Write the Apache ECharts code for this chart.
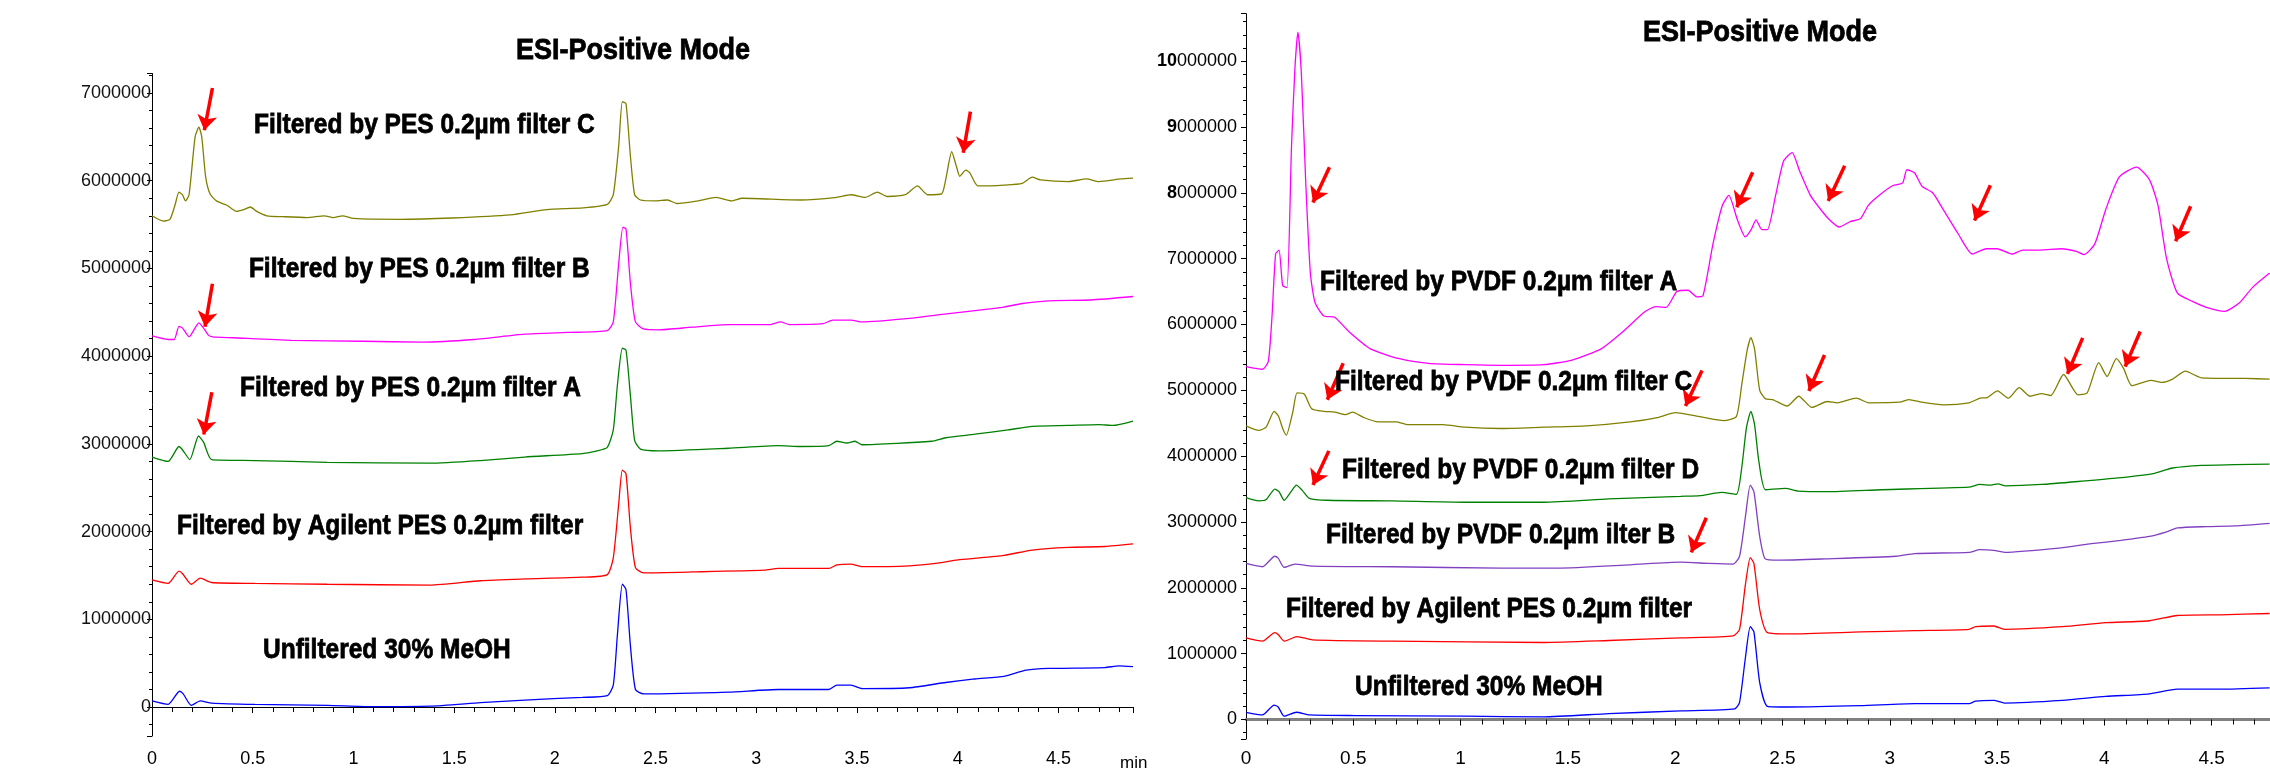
<!DOCTYPE html>
<html>
<head>
<meta charset="utf-8">
<title>ESI-Positive Mode</title>
<script src="https://cdn.jsdelivr.net/npm/echarts@6/dist/echarts.min.js"></script>
<style>
  html, body { margin: 0; padding: 0; background: #fff; }
  #chart { width: 2270px; height: 768px; }
</style>
</head>
<body>
<div id="chart"></div>
<script>
// ---- left panel: PES filters, [time (min), intensity] ----
const pesC = [
  [0, 5.60e6], [0.056, 5.54e6], [0.089, 5.56e6], [0.114, 5.72e6], [0.134, 5.87e6], [0.151, 5.84e6],
  [0.166, 5.77e6], [0.184, 5.84e6], [0.214, 6.50e6], [0.233, 6.61e6], [0.247, 6.50e6], [0.266, 6.05e6],
  [0.288, 5.85e6], [0.32, 5.77e6], [0.372, 5.72e6], [0.42, 5.65e6], [0.455, 5.67e6], [0.488, 5.70e6],
  [0.52, 5.65e6], [0.57, 5.60e6], [0.65, 5.59e6], [0.77, 5.58e6], [0.855, 5.60e6], [0.90, 5.58e6],
  [0.946, 5.60e6], [1.0, 5.57e6], [1.23, 5.56e6], [1.49, 5.575e6], [1.78, 5.61e6], [1.96, 5.67e6],
  [2.14, 5.69e6], [2.26, 5.73e6], [2.29, 5.84e6], [2.317, 6.40e6], [2.335, 6.90e6], [2.353, 6.88e6],
  [2.375, 6.28e6], [2.396, 5.84e6], [2.425, 5.78e6], [2.50, 5.77e6], [2.56, 5.78e6], [2.605, 5.74e6],
  [2.71, 5.77e6], [2.80, 5.81e6], [2.876, 5.77e6], [2.93, 5.80e6], [3.22, 5.78e6], [3.40, 5.81e6],
  [3.47, 5.84e6], [3.54, 5.81e6], [3.60, 5.87e6], [3.65, 5.82e6], [3.74, 5.84e6], [3.80, 5.94e6],
  [3.85, 5.84e6], [3.92, 5.85e6], [3.94, 6.01e6], [3.97, 6.33e6], [3.995, 6.15e6], [4.01, 6.05e6],
  [4.04, 6.12e6], [4.06, 6.09e6], [4.10, 5.94e6], [4.23, 5.95e6], [4.32, 5.97e6], [4.37, 6.04e6],
  [4.41, 6.01e6], [4.55, 5.99e6], [4.64, 6.02e6], [4.70, 5.99e6], [4.81, 6.02e6], [4.87, 6.03e6]
];
const pesB = [
  [0, 4.23e6], [0.08, 4.19e6], [0.11, 4.19e6], [0.134, 4.34e6], [0.152, 4.32e6], [0.184, 4.22e6],
  [0.233, 4.38e6], [0.256, 4.32e6], [0.28, 4.24e6], [0.30, 4.22e6], [0.40, 4.21e6], [0.69, 4.18e6],
  [1.05, 4.17e6], [1.34, 4.16e6], [1.60, 4.19e6], [1.85, 4.25e6], [2.06, 4.27e6], [2.26, 4.29e6],
  [2.29, 4.39e6], [2.317, 5.06e6], [2.338, 5.47e6], [2.353, 5.45e6], [2.375, 4.83e6], [2.40, 4.39e6],
  [2.44, 4.31e6], [2.515, 4.30e6], [2.68, 4.33e6], [2.86, 4.36e6], [3.07, 4.36e6], [3.12, 4.39e6],
  [3.165, 4.36e6], [3.33, 4.37e6], [3.38, 4.41e6], [3.47, 4.41e6], [3.525, 4.39e6], [3.76, 4.43e6],
  [3.90, 4.47e6], [4.01, 4.50e6], [4.16, 4.54e6], [4.23, 4.56e6], [4.32, 4.60e6], [4.45, 4.63e6],
  [4.66, 4.64e6], [4.87, 4.68e6]
];
const pesA = [
  [0, 2.85e6], [0.08, 2.80e6], [0.134, 2.97e6], [0.152, 2.93e6], [0.188, 2.82e6], [0.231, 3.09e6],
  [0.256, 3.02e6], [0.296, 2.82e6], [0.51, 2.81e6], [0.87, 2.79e6], [1.38, 2.78e6], [1.63, 2.81e6],
  [1.85, 2.85e6], [2.136, 2.89e6], [2.21, 2.92e6], [2.26, 2.96e6], [2.29, 3.16e6], [2.31, 3.66e6],
  [2.335, 4.09e6], [2.353, 4.07e6], [2.375, 3.55e6], [2.396, 3.04e6], [2.425, 2.94e6], [2.515, 2.92e6],
  [2.86, 2.95e6], [3.11, 2.98e6], [3.22, 2.97e6], [3.36, 2.98e6], [3.40, 3.03e6], [3.45, 3.01e6],
  [3.49, 3.03e6], [3.525, 2.99e6], [3.87, 3.03e6], [3.94, 3.07e6], [4.085, 3.11e6], [4.25, 3.16e6],
  [4.37, 3.20e6], [4.55, 3.21e6], [4.70, 3.22e6], [4.77, 3.21e6], [4.87, 3.26e6]
];
const agilentL = [
  [0, 1.45e6], [0.08, 1.41e6], [0.134, 1.55e6], [0.152, 1.52e6], [0.195, 1.40e6], [0.24, 1.47e6],
  [0.296, 1.42e6], [0.51, 1.41e6], [0.87, 1.40e6], [1.38, 1.39e6], [1.63, 1.44e6], [1.85, 1.46e6],
  [2.136, 1.48e6], [2.26, 1.51e6], [2.29, 1.70e6], [2.317, 2.32e6], [2.335, 2.70e6], [2.353, 2.66e6],
  [2.375, 2.04e6], [2.40, 1.59e6], [2.44, 1.53e6], [2.68, 1.54e6], [3.04, 1.56e6], [3.11, 1.58e6],
  [3.36, 1.58e6], [3.40, 1.62e6], [3.47, 1.63e6], [3.525, 1.60e6], [3.76, 1.61e6], [3.90, 1.64e6],
  [4.01, 1.68e6], [4.23, 1.73e6], [4.37, 1.79e6], [4.55, 1.82e6], [4.73, 1.83e6], [4.87, 1.86e6]
];
const unfilteredL = [
  [0, 0.07e6], [0.08, 0.03e6], [0.137, 0.18e6], [0.155, 0.15e6], [0.195, 0.02e6], [0.24, 0.07e6],
  [0.296, 0.045e6], [0.51, 0.03e6], [0.87, 0.02e6], [1.09, 0.005e6], [1.38, 0.01e6], [1.63, 0.05e6],
  [1.85, 0.08e6], [2.136, 0.11e6], [2.26, 0.13e6], [2.29, 0.25e6], [2.31, 0.81e6], [2.335, 1.40e6],
  [2.353, 1.34e6], [2.375, 0.70e6], [2.40, 0.20e6], [2.44, 0.15e6], [2.86, 0.17e6], [3.11, 0.20e6],
  [3.36, 0.20e6], [3.40, 0.25e6], [3.47, 0.25e6], [3.525, 0.21e6], [3.76, 0.22e6], [3.94, 0.28e6],
  [4.085, 0.32e6], [4.23, 0.35e6], [4.34, 0.42e6], [4.45, 0.44e6], [4.73, 0.45e6], [4.80, 0.47e6],
  [4.87, 0.46e6]
];

// ---- right panel: PVDF filters ----
const pvdfA = [
  [0, 5.36e6], [0.077, 5.32e6], [0.104, 5.44e6], [0.121, 6.11e6], [0.138, 7.07e6], [0.154, 7.13e6],
  [0.171, 6.59e6], [0.191, 6.56e6], [0.212, 8.70e6], [0.228, 9.89e6], [0.242, 10.44e6], [0.258, 9.81e6],
  [0.279, 8.11e6], [0.30, 6.78e6], [0.322, 6.33e6], [0.363, 6.13e6], [0.413, 6.11e6], [0.48, 5.89e6],
  [0.58, 5.63e6], [0.715, 5.48e6], [0.85, 5.41e6], [1.02, 5.39e6], [1.185, 5.38e6], [1.387, 5.39e6],
  [1.52, 5.46e6], [1.655, 5.63e6], [1.756, 5.89e6], [1.857, 6.19e6], [1.91, 6.27e6], [1.958, 6.26e6],
  [2.008, 6.50e6], [2.06, 6.52e6], [2.10, 6.42e6], [2.13, 6.44e6], [2.176, 7.22e6], [2.22, 7.81e6],
  [2.25, 7.96e6], [2.29, 7.59e6], [2.327, 7.33e6], [2.354, 7.44e6], [2.377, 7.59e6], [2.404, 7.44e6],
  [2.43, 7.44e6], [2.468, 7.96e6], [2.505, 8.48e6], [2.545, 8.61e6], [2.58, 8.33e6], [2.63, 7.96e6],
  [2.67, 7.78e6], [2.713, 7.61e6], [2.764, 7.48e6], [2.814, 7.56e6], [2.864, 7.61e6], [2.90, 7.81e6],
  [2.95, 7.96e6], [3.015, 8.11e6], [3.06, 8.15e6], [3.08, 8.35e6], [3.116, 8.30e6], [3.15, 8.10e6],
  [3.20, 8.00e6], [3.25, 7.74e6], [3.32, 7.37e6], [3.385, 7.07e6], [3.45, 7.15e6], [3.50, 7.15e6],
  [3.57, 7.07e6], [3.62, 7.13e6], [3.70, 7.13e6], [3.80, 7.15e6], [3.87, 7.11e6], [3.905, 7.06e6],
  [3.955, 7.22e6], [4.006, 7.74e6], [4.07, 8.24e6], [4.15, 8.39e6], [4.21, 8.20e6], [4.25, 7.81e6],
  [4.29, 7.00e6], [4.34, 6.48e6], [4.41, 6.35e6], [4.476, 6.26e6], [4.56, 6.20e6], [4.63, 6.33e6],
  [4.69, 6.56e6], [4.77, 6.78e6]
];
const pvdfC = [
  [0, 4.46e6], [0.06, 4.39e6], [0.094, 4.44e6], [0.131, 4.68e6], [0.151, 4.61e6], [0.171, 4.42e6],
  [0.188, 4.32e6], [0.218, 4.67e6], [0.238, 4.96e6], [0.272, 4.94e6], [0.306, 4.72e6], [0.363, 4.68e6],
  [0.413, 4.67e6], [0.463, 4.63e6], [0.497, 4.67e6], [0.547, 4.59e6], [0.615, 4.52e6], [0.70, 4.52e6],
  [0.75, 4.48e6], [0.917, 4.48e6], [1.02, 4.44e6], [1.185, 4.42e6], [1.387, 4.44e6], [1.588, 4.46e6],
  [1.79, 4.52e6], [1.924, 4.59e6], [2.0, 4.66e6], [2.116, 4.60e6], [2.226, 4.54e6], [2.285, 4.60e6],
  [2.31, 5.08e6], [2.335, 5.60e6], [2.353, 5.80e6], [2.37, 5.63e6], [2.394, 5.00e6], [2.421, 4.87e6],
  [2.454, 4.86e6], [2.522, 4.76e6], [2.576, 4.91e6], [2.637, 4.74e6], [2.709, 4.83e6], [2.756, 4.81e6],
  [2.844, 4.88e6], [2.903, 4.81e6], [3.047, 4.82e6], [3.09, 4.86e6], [3.149, 4.82e6], [3.25, 4.78e6],
  [3.369, 4.81e6], [3.42, 4.88e6], [3.454, 4.89e6], [3.502, 4.99e6], [3.553, 4.88e6], [3.603, 5.04e6],
  [3.654, 4.91e6], [3.708, 4.95e6], [3.75, 4.92e6], [3.81, 5.24e6], [3.878, 4.93e6], [3.92, 4.96e6],
  [3.974, 5.42e6], [4.013, 5.21e6], [4.056, 5.48e6], [4.09, 5.33e6], [4.128, 5.07e6], [4.217, 5.15e6],
  [4.268, 5.12e6], [4.318, 5.17e6], [4.377, 5.29e6], [4.453, 5.19e6], [4.657, 5.18e6], [4.77, 5.17e6]
];
const pvdfD = [
  [0, 3.37e6], [0.06, 3.32e6], [0.094, 3.34e6], [0.134, 3.50e6], [0.154, 3.46e6], [0.178, 3.33e6],
  [0.21, 3.46e6], [0.235, 3.56e6], [0.262, 3.48e6], [0.295, 3.36e6], [0.38, 3.33e6], [0.68, 3.32e6],
  [1.02, 3.30e6], [1.387, 3.30e6], [1.69, 3.35e6], [2.025, 3.39e6], [2.116, 3.40e6], [2.217, 3.45e6],
  [2.285, 3.42e6], [2.31, 3.82e6], [2.332, 4.43e6], [2.353, 4.68e6], [2.37, 4.48e6], [2.39, 3.92e6],
  [2.421, 3.49e6], [2.514, 3.51e6], [2.573, 3.47e6], [2.709, 3.46e6], [2.963, 3.49e6], [3.369, 3.53e6],
  [3.42, 3.57e6], [3.472, 3.56e6], [3.505, 3.58e6], [3.539, 3.55e6], [3.708, 3.57e6], [3.895, 3.62e6],
  [4.064, 3.67e6], [4.234, 3.74e6], [4.318, 3.82e6], [4.454, 3.86e6], [4.606, 3.87e6], [4.77, 3.88e6]
];
const pvdfB = [
  [0, 2.37e6], [0.077, 2.32e6], [0.134, 2.48e6], [0.15, 2.45e6], [0.178, 2.31e6], [0.228, 2.36e6],
  [0.31, 2.33e6], [0.68, 2.32e6], [1.185, 2.30e6], [1.45, 2.30e6], [1.79, 2.35e6], [2.025, 2.39e6],
  [2.16, 2.37e6], [2.27, 2.36e6], [2.30, 2.48e6], [2.327, 3.07e6], [2.35, 3.56e6], [2.367, 3.46e6],
  [2.394, 2.78e6], [2.42, 2.44e6], [2.48, 2.42e6], [2.70, 2.44e6], [3.03, 2.48e6], [3.116, 2.52e6],
  [3.37, 2.54e6], [3.42, 2.58e6], [3.485, 2.57e6], [3.535, 2.54e6], [3.805, 2.61e6], [3.94, 2.67e6],
  [4.077, 2.72e6], [4.21, 2.78e6], [4.29, 2.85e6], [4.34, 2.91e6], [4.476, 2.93e6], [4.61, 2.94e6],
  [4.77, 2.98e6]
];
const agilentR = [
  [0, 1.24e6], [0.077, 1.19e6], [0.134, 1.32e6], [0.15, 1.29e6], [0.178, 1.19e6], [0.238, 1.26e6],
  [0.31, 1.21e6], [0.68, 1.19e6], [1.387, 1.17e6], [1.69, 1.20e6], [2.025, 1.24e6], [2.27, 1.27e6],
  [2.30, 1.37e6], [2.327, 2.04e6], [2.35, 2.46e6], [2.367, 2.37e6], [2.394, 1.67e6], [2.43, 1.32e6],
  [2.53, 1.30e6], [2.864, 1.33e6], [3.116, 1.35e6], [3.37, 1.37e6], [3.40, 1.41e6], [3.485, 1.42e6],
  [3.535, 1.37e6], [3.805, 1.41e6], [4.006, 1.47e6], [4.21, 1.50e6], [4.34, 1.58e6], [4.54, 1.59e6],
  [4.77, 1.61e6]
];
const unfilteredR = [
  [0, 0.11e6], [0.077, 0.07e6], [0.131, 0.22e6], [0.15, 0.19e6], [0.178, 0.05e6], [0.235, 0.11e6],
  [0.295, 0.07e6], [0.51, 0.06e6], [1.02, 0.05e6], [1.387, 0.04e6], [1.69, 0.09e6], [2.025, 0.13e6],
  [2.277, 0.16e6], [2.30, 0.26e6], [2.327, 0.93e6], [2.35, 1.41e6], [2.367, 1.33e6], [2.394, 0.56e6],
  [2.43, 0.20e6], [2.53, 0.19e6], [2.864, 0.21e6], [3.116, 0.24e6], [3.37, 0.24e6], [3.40, 0.28e6],
  [3.485, 0.29e6], [3.535, 0.25e6], [3.805, 0.29e6], [4.006, 0.35e6], [4.21, 0.39e6], [4.34, 0.46e6],
  [4.54, 0.46e6], [4.77, 0.48e6]
];

// arrows: [tailTime, tailValue, headTime, headValue]
const arrowsL = [
  [0.300, 7.057e6, 0.260, 6.575e6],
  [4.063, 6.787e6, 4.027, 6.319e6],
  [0.300, 4.826e6, 0.263, 4.336e6],
  [0.297, 3.588e6, 0.257, 3.107e6]
];
const arrowsR = [
  [0.389, 8.387e6, 0.312, 7.854e6],
  [2.361, 8.313e6, 2.287, 7.780e6],
  [2.790, 8.410e6, 2.713, 7.877e6],
  [3.469, 8.114e6, 3.395, 7.580e6],
  [4.402, 7.795e6, 4.332, 7.263e6],
  [0.453, 5.412e6, 0.379, 4.857e6],
  [2.125, 5.302e6, 2.048, 4.760e6],
  [2.696, 5.537e6, 2.623, 4.990e6],
  [3.899, 5.797e6, 3.828, 5.249e6],
  [4.167, 5.894e6, 4.097, 5.360e6],
  [0.386, 4.080e6, 0.312, 3.562e6],
  [2.145, 3.065e6, 2.075, 2.539e6]
];

// trace captions, anchored at the left edge / middle of the text
const notesL = [
  { text: 'Filtered by PES 0.2µm filter C', t: 0.506, v: 6.630e6 },
  { text: 'Filtered by PES 0.2µm filter B', t: 0.481, v: 4.985e6 },
  { text: 'Filtered by PES 0.2µm filter A', t: 0.437, v: 3.637e6 },
  { text: 'Filtered by Agilent PES 0.2µm filter', t: 0.124, v: 2.060e6 },
  { text: 'Unfiltered 30% MeOH', t: 0.551, v: 0.649e6 }
];
const notesR = [
  { text: 'Filtered by PVDF 0.2µm filter A', t: 0.345, v: 6.634e6 },
  { text: 'Filtered by PVDF 0.2µm filter C', t: 0.415, v: 5.116e6 },
  { text: 'Filtered by PVDF 0.2µm filter D', t: 0.447, v: 3.786e6 },
  { text: 'Filtered by PVDF 0.2µm ilter B', t: 0.373, v: 2.796e6 },
  { text: 'Filtered by Agilent PES 0.2µm filter', t: 0.186, v: 1.678e6 },
  { text: 'Unfiltered 30% MeOH', t: 0.508, v: 0.491e6 }
];

const TITLE = 'ESI-Positive Mode';
const PLAIN = '"Liberation Sans", Arial, sans-serif';

const chart = echarts.init(document.getElementById('chart'));

const trace = (name, data, color, idx) => ({
  type: 'line',
  name: name,
  data: data,
  xAxisIndex: idx,
  yAxisIndex: idx,
  showSymbol: false,
  symbol: 'none',
  smooth: 0.2,
  lineStyle: { color: color, width: 1.3 },
  itemStyle: { color: color },
  z: 3
});

const arrows = (list, idx) => ({
  type: 'lines',
  coordinateSystem: 'cartesian2d',
  xAxisIndex: idx,
  yAxisIndex: idx,
  symbol: ['none', 'arrow'],
  symbolSize: 15,
  lineStyle: { color: '#ff0000', width: 3.5, opacity: 1 },
  itemStyle: { color: '#ff0000' },
  z: 5,
  data: list.map(a => ({ coords: [[a[0], a[1]], [a[2], a[3]]] }))
});

const xAxisBase = {
  type: 'value',
  min: 0,
  interval: 0.5,
  splitLine: { show: false },
  axisTick: { show: true, length: 6, lineStyle: { color: '#000' } },
  minorTick: { show: true, splitNumber: 5, length: 5, lineStyle: { color: '#000' } },
  axisLabel: { showMaxLabel: false, fontFamily: PLAIN, fontSize: 18, color: '#000' }
};
const yAxisBase = {
  type: 'value',
  minInterval: 1000000,
  maxInterval: 1000000,
  splitLine: { show: false },
  axisLine: { show: true, lineStyle: { color: '#000', width: 1 } },
  axisTick: { show: true, length: 5, lineStyle: { color: '#000' } },
  minorTick: { show: true, splitNumber: 5, length: 3, lineStyle: { color: '#000' } }
};

const option = {
  animation: false,
  backgroundColor: '#fff',
  grid: [
    { left: 152, top: 73.5, width: 981, height: 663.5 },
    { left: 1246, top: 13.7, width: 1024, height: 729 }
  ],
  xAxis: [
    Object.assign({}, xAxisBase, {
      gridIndex: 0, max: 4.87,
      axisLine: { lineStyle: { color: '#000', width: 1 } },
      axisLabel: Object.assign({}, xAxisBase.axisLabel, { margin: 14 })
    }),
    Object.assign({}, xAxisBase, {
      gridIndex: 1, max: 4.772,
      axisLine: { lineStyle: { color: '#808080', width: 3 } },
      axisLabel: Object.assign({}, xAxisBase.axisLabel, { margin: 10, fontSize: 19 })
    })
  ],
  yAxis: [
    Object.assign({}, yAxisBase, {
      gridIndex: 0, min: -330000, max: 7222000,
      axisLabel: {
        showMinLabel: false, showMaxLabel: false, margin: 1, fontFamily: PLAIN, fontSize: 18, color: '#111',
        formatter: v => String(v)
      }
    }),
    Object.assign({}, yAxisBase, {
      gridIndex: 1, min: -296000, max: 10720000,
      axisLabel: {
        showMinLabel: false, showMaxLabel: false, margin: 9, fontFamily: PLAIN, fontSize: 18, color: '#000',
        formatter: v => (v >= 8000000 ? '{b|' + (v / 1000000) + '}000000' : String(v)),
        rich: { b: { fontFamily: PLAIN, fontSize: 18, fontWeight: 'bold', color: '#000' } }
      }
    })
  ],
  series: [
    trace('Filtered by PES 0.2µm filter C', pesC, '#808000', 0),
    trace('Filtered by PES 0.2µm filter B', pesB, '#ff00ff', 0),
    trace('Filtered by PES 0.2µm filter A', pesA, '#008000', 0),
    trace('Filtered by Agilent PES 0.2µm filter', agilentL, '#ff0000', 0),
    trace('Unfiltered 30% MeOH', unfilteredL, '#0000ff', 0),
    trace('Filtered by PVDF 0.2µm filter A', pvdfA, '#ff00ff', 1),
    trace('Filtered by PVDF 0.2µm filter C', pvdfC, '#808000', 1),
    trace('Filtered by PVDF 0.2µm filter D', pvdfD, '#008000', 1),
    trace('Filtered by PVDF 0.2µm ilter B', pvdfB, '#8040c0', 1),
    trace('Filtered by Agilent PES 0.2µm filter (R)', agilentR, '#ff0000', 1),
    trace('Unfiltered 30% MeOH (R)', unfilteredR, '#0000ff', 1),
    arrows(arrowsL, 0),
    arrows(arrowsR, 1)
  ]
};

chart.setOption(option);

// captions and titles, drawn condensed and a little heavier (no narrow black font installed)
const heavy = { fontFamily: PLAIN, fontWeight: 'bold', fill: '#000', stroke: '#000', lineWidth: 0.8 };
const caption = (n, grid) => {
  const p = chart.convertToPixel({ gridIndex: grid }, [n.t, n.v]);
  return {
    type: 'text', x: p[0], y: p[1], z: 10, scaleX: 0.875,
    style: Object.assign({ text: n.text, fontSize: 28, align: 'left', verticalAlign: 'middle' }, heavy)
  };
};
const heading = (x, y) => ({
  type: 'text', x: x, y: y, z: 10, scaleX: 0.9,
  style: Object.assign({ text: TITLE, fontSize: 30, align: 'center', verticalAlign: 'middle' }, heavy)
});
// axis unit at the end of the left time axis
const axisEnd = chart.convertToPixel({ gridIndex: 0 }, [4.87, -330000]);

chart.setOption({
  graphic: [
    heading(633, 51),
    heading(1760, 33),
    {
      type: 'text', x: axisEnd[0] - 13, y: axisEnd[1] + 19, z: 10,
      style: { text: 'min', fontFamily: PLAIN, fontSize: 17, fill: '#000', align: 'left', verticalAlign: 'top' }
    }
  ]
    .concat(notesL.map(n => caption(n, 0)))
    .concat(notesR.map(n => caption(n, 1)))
});
</script>
</body>
</html>
